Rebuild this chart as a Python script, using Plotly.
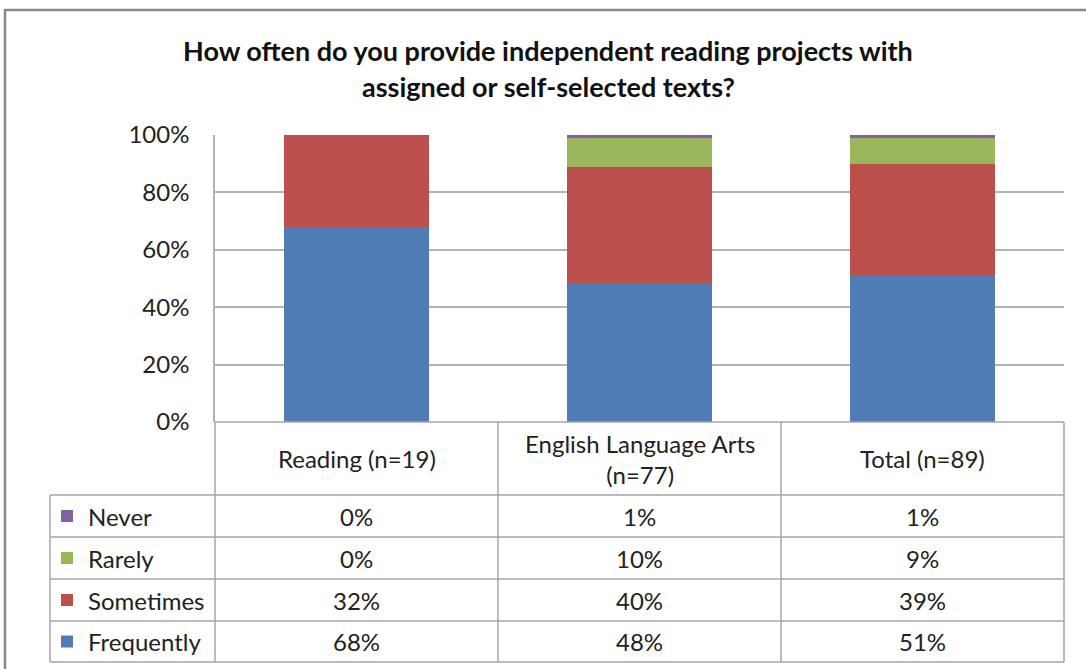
import plotly.graph_objects as go

# Survey responses, percent of respondents in each group
categories = ["Reading (n=19)", "English Language Arts (n=77)", "Total (n=89)"]
category_labels = ["Reading (n=19)", "English Language Arts<br>(n=77)", "Total (n=89)"]
frequently = [68, 48, 51]
sometimes = [32, 40, 39]
rarely = [0, 10, 9]
never = [0, 1, 1]
y_ticks = [0, 20, 40, 60, 80, 100]
y_tick_labels = [f"{v}%" for v in y_ticks]

title_lines = ["How often do you provide independent reading projects with",
               "assigned or self-selected texts?"]

# stacking order bottom -> top, table rows top -> bottom
series = [
    ("Frequently", frequently, "#4F7CB5"),
    ("Sometimes", sometimes, "#BA4F4C"),
    ("Rarely", rarely, "#9BB75C"),
    ("Never", never, "#8064A2"),
]

W, H = 1086, 669
PL, PR, PT, PB = 215, 1064, 135, 422  # plot area in pixels
FONT = "Lato, 'Open Sans', sans-serif"
TXT = "#222222"
GRID = "#B3B3B3"
FS = 24


def px(x):
    return (x - PL) / (PR - PL)


def py(y):
    return (PB - y) / (PB - PT)


fig = go.Figure()
for name, vals, color in series:
    fig.add_trace(go.Bar(
        x=categories, y=vals, name=name,
        marker=dict(color=color, line=dict(width=0)),
        width=0.513, showlegend=False,
    ))

fig.update_layout(
    width=W, height=H,
    margin=dict(l=PL, r=W - PR, t=PT, b=H - PB, pad=0),
    barmode="stack", barnorm="percent",
    plot_bgcolor="white", paper_bgcolor="white",
    font=dict(family=FONT, color=TXT, size=FS),
    xaxis=dict(
        range=[-0.5, 2.5], showticklabels=False, showgrid=False,
        zeroline=False, showline=False, ticks="",
    ),
    yaxis=dict(
        range=[0, 100], tickmode="array", tickvals=y_ticks, ticktext=y_tick_labels,
        showgrid=True, gridcolor=GRID, gridwidth=1.5,
        zeroline=False, showline=True, linecolor=GRID, linewidth=1.5,
        ticks="", ticklabelstandoff=19,
        tickfont=dict(family=FONT, size=FS, color=TXT),
    ),
)

shapes = []
# outer chart border
shapes.append(dict(
    type="rect", xref="paper", yref="paper",
    x0=px(5), x1=px(W + 40), y0=py(H + 40), y1=py(10),
    line=dict(color="#8A8A8A", width=2.5), fillcolor="rgba(0,0,0,0)", layer="below",
))

# data table grid
col_edges = [PL + i * (PR - PL) / 3 for i in range(4)]
row_edges = [PB, 495, 537, 579, 621, 662]
TABLE_LEFT = 50
line_style = dict(color="#A6A6A6", width=1.5)

for xe in col_edges:
    shapes.append(dict(type="line", xref="paper", yref="paper",
                       x0=px(xe), x1=px(xe), y0=py(PB), y1=py(row_edges[-1]),
                       line=line_style))
shapes.append(dict(type="line", xref="paper", yref="paper",
                   x0=px(TABLE_LEFT), x1=px(TABLE_LEFT),
                   y0=py(row_edges[1]), y1=py(row_edges[-1]), line=line_style))
shapes.append(dict(type="line", xref="paper", yref="paper",
                   x0=px(PL), x1=px(PR), y0=py(PB), y1=py(PB), line=line_style))
for ye in row_edges[1:]:
    shapes.append(dict(type="line", xref="paper", yref="paper",
                       x0=px(TABLE_LEFT), x1=px(PR), y0=py(ye), y1=py(ye),
                       line=line_style))

annotations = []
# chart title, two centred lines
for i, line in enumerate(title_lines):
    annotations.append(dict(
        text="<b>" + line + "</b>", xref="paper", yref="paper",
        x=px(W / 2 + 5), y=py(50 + 36 * i), xanchor="center", yanchor="middle",
        showarrow=False, font=dict(family=FONT, size=27, color="#111111"),
    ))

col_centers = [(col_edges[i] + col_edges[i + 1]) / 2 for i in range(3)]
header_mid = (row_edges[0] + row_edges[1]) / 2
for cx, lab in zip(col_centers, category_labels):
    annotations.append(dict(
        text=lab, xref="paper", yref="paper", x=px(cx), y=py(header_mid),
        xanchor="center", yanchor="middle", showarrow=False,
        font=dict(family=FONT, size=FS, color=TXT),
    ))

table_rows = list(reversed(series))  # Never, Rarely, Sometimes, Frequently
for r, (name, vals, color) in enumerate(table_rows):
    top, bot = row_edges[r + 1], row_edges[r + 2]
    mid = (top + bot) / 2
    shapes.append(dict(type="rect", xref="paper", yref="paper",
                       x0=px(61), x1=px(73), y0=py(mid + 6), y1=py(mid - 6),
                       fillcolor=color, line=dict(width=0)))
    annotations.append(dict(
        text=name, xref="paper", yref="paper", x=px(86), y=py(mid),
        xanchor="left", yanchor="middle", showarrow=False,
        font=dict(family=FONT, size=FS, color=TXT),
    ))
    for cx, v in zip(col_centers, vals):
        annotations.append(dict(
            text=f"{v}%", xref="paper", yref="paper", x=px(cx), y=py(mid),
            xanchor="center", yanchor="middle", showarrow=False,
            font=dict(family=FONT, size=FS, color=TXT),
        ))

fig.update_layout(shapes=shapes, annotations=annotations)
fig.write_html("out.html")
